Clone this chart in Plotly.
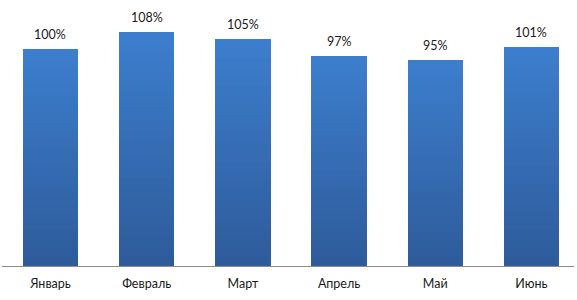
import plotly.graph_objects as go

categories = ["Январь", "Февраль", "Март", "Апрель", "Май", "Июнь"]
values = [100, 108, 105, 97, 95, 101]
labels = ["100%", "108%", "105%", "97%", "95%", "101%"]

# gradient shading (bottom -> top) applied by stacking equal slices of each bar
N = 24
bottom = (46, 92, 155)
top = (60, 125, 205)

def shade(k):
    t = k / (N - 1)
    r, g, b = (round(bottom[i] + (top[i] - bottom[i]) * t) for i in range(3))
    return f"rgb({r},{g},{b})"

FONT = "Lato, Open Sans, sans-serif"

fig = go.Figure()
for k in range(N):
    fig.add_trace(go.Bar(
        x=categories, y=[v / N for v in values],
        marker=dict(color=shade(k), line=dict(width=0)),
        hoverinfo="skip", showlegend=False,
    ))

for c, v, t in zip(categories, values, labels):
    fig.add_annotation(x=c, y=v, text=t, showarrow=False, yanchor="bottom",
                       yshift=5, font=dict(family=FONT, size=12.5, color="#1a1a1a"))

fig.update_layout(
    width=577, height=300,
    margin=dict(l=2, r=3, t=0, b=34),
    barmode="stack", bargap=0.423,
    plot_bgcolor="white", paper_bgcolor="white",
    xaxis=dict(showline=True, linecolor="#8c8c8c", linewidth=1, ticks="",
               range=[-0.504, 5.442], showgrid=False, ticklabelstandoff=6,
               tickfont=dict(family=FONT, size=12.5, color="#1a1a1a")),
    yaxis=dict(visible=False, range=[0, 122.8], showgrid=False, zeroline=False),
)

fig.write_html("out.html")
